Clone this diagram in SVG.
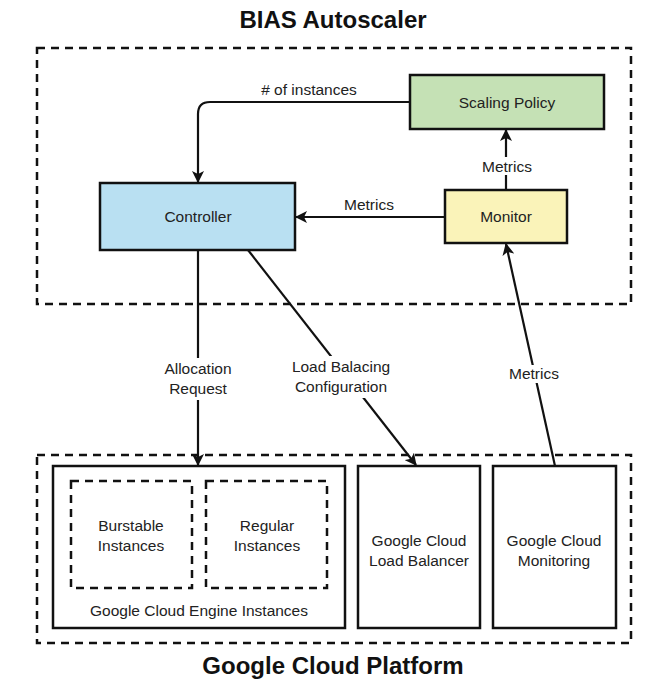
<svg xmlns="http://www.w3.org/2000/svg" width="670" height="690" viewBox="0 0 670 690">
<defs>
<style>
text{font-family:"Liberation Sans",Arial,sans-serif;fill:#222;text-anchor:middle}
.t{font-size:15.5px}
.h{font-size:24px;font-weight:bold;fill:#111}
.node{stroke:#111;stroke-width:2.5}
.dash{fill:none;stroke:#111;stroke-width:2.5;stroke-dasharray:8 6}
.edge{fill:none;stroke:#111;stroke-width:2.2}
.lbl{fill:#fff;stroke:none}
</style>
<marker id="ah" viewBox="0 0 12 12" refX="11" refY="6" markerWidth="12" markerHeight="12" markerUnits="userSpaceOnUse" orient="auto">
<path d="M0,0 L12,6 L0,12 L3,6 Z" fill="#111"/>
</marker>
</defs>
<rect width="670" height="690" fill="#fff"/>
<text class="h" x="333" y="28">BIAS Autoscaler</text>
<rect class="dash" x="37" y="48" width="594" height="256"/>
<rect class="dash" x="37" y="455" width="594" height="188"/>
<text class="h" x="333" y="674">Google Cloud Platform</text>

<g id="scaling-policy"><rect class="node" x="410" y="75" width="194" height="54" fill="#c5e1b5"/><text class="t" x="507" y="108">Scaling Policy</text></g>
<g id="controller"><rect class="node" x="100" y="183" width="195" height="67" fill="#b9e0f2"/><text class="t" x="198" y="222">Controller</text></g>
<g id="monitor"><rect class="node" x="445" y="190" width="122" height="53" fill="#faf3b9"/><text class="t" x="506" y="222">Monitor</text></g>

<g id="gce"><rect class="node" x="53" y="466" width="292" height="162" fill="#fff"/><text class="t" x="199" y="616">Google Cloud Engine Instances</text></g>
<g id="burstable"><rect class="dash" x="71" y="481" width="121" height="107"/><text class="t" x="131" y="531">Burstable</text><text class="t" x="131" y="551">Instances</text></g>
<g id="regular"><rect class="dash" x="206" y="481" width="121" height="107"/><text class="t" x="267" y="531">Regular</text><text class="t" x="267" y="551">Instances</text></g>
<g id="load-balancer"><rect class="node" x="358" y="466" width="122" height="162" fill="#fff"/><text class="t" x="419" y="546">Google Cloud</text><text class="t" x="419" y="566">Load Balancer</text></g>
<g id="monitoring"><rect class="node" x="493" y="466" width="123" height="162" fill="#fff"/><text class="t" x="554" y="546">Google Cloud</text><text class="t" x="554" y="566">Monitoring</text></g>

<g id="connectors">
<path class="edge" d="M410,102 H210 Q198,102 198,114 V182" marker-end="url(#ah)"/>
<text class="t" x="309" y="95">#&#160;of instances</text>
<path class="edge" d="M506,190 V130" marker-end="url(#ah)"/>
<rect class="lbl" x="478" y="157" width="58" height="18"/>
<text class="t" x="507" y="172">Metrics</text>
<path class="edge" d="M445,217 H296" marker-end="url(#ah)"/>
<text class="t" x="369" y="210">Metrics</text>
<path class="edge" d="M198,250 V465" marker-end="url(#ah)"/>
<rect class="lbl" x="156" y="358" width="84" height="42"/>
<text class="t" x="198" y="374">Allocation</text>
<text class="t" x="198" y="394">Request</text>
<path class="edge" d="M248,250 L416,465" marker-end="url(#ah)"/>
<rect class="lbl" x="284" y="356" width="114" height="42"/>
<text class="t" x="341" y="372">Load Balacing</text>
<text class="t" x="341" y="392">Configuration</text>
<path class="edge" d="M555,466 L506,244" marker-end="url(#ah)"/>
<rect class="lbl" x="505" y="365" width="58" height="18"/>
<text class="t" x="534" y="379">Metrics</text>
</g>
</svg>
